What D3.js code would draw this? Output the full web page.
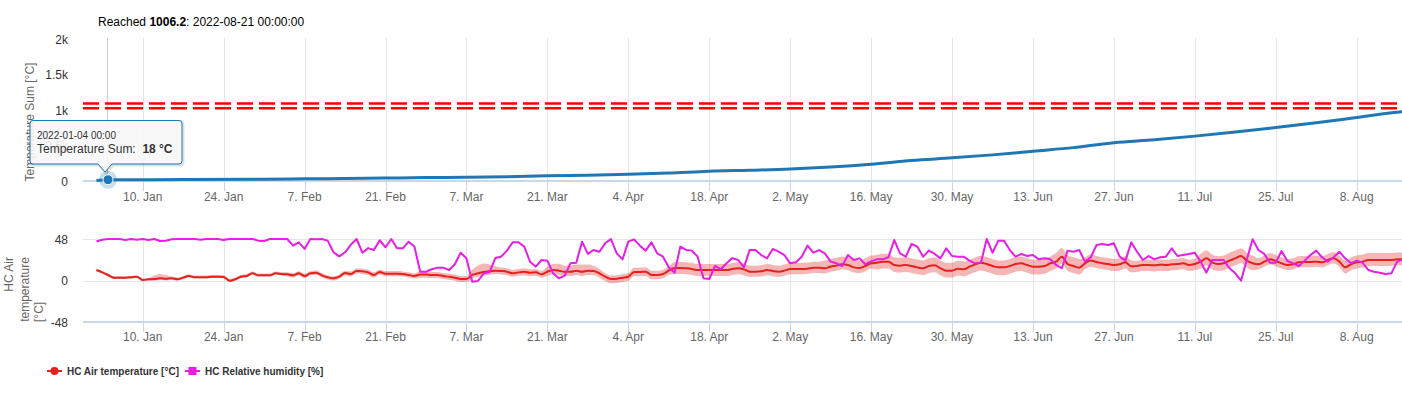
<!DOCTYPE html>
<html>
<head>
<meta charset="utf-8">
<script src="https://cdn.jsdelivr.net/npm/d3@7"></script>
<style>
  html, body { margin: 0; padding: 0; background: #fff; overflow: hidden; }
  svg { display: block; font-family: "Liberation Sans", Arial, sans-serif; }
</style>
</head>
<body>
<svg id="chart" width="1402" height="397"></svg>
<script>
// ---------------- DATA ----------------
const titlePrefix = "Reached ";
const titleValue = "1006.2";
const titleSuffix = ": 2022-08-21 00:00:00";

// x-axis tick dates (every two weeks)
const tickDates = ["2022-01-10","2022-01-24","2022-02-07","2022-02-21","2022-03-07","2022-03-21",
  "2022-04-04","2022-04-18","2022-05-02","2022-05-16","2022-05-30","2022-06-13","2022-06-27",
  "2022-07-11","2022-07-25","2022-08-08"];

// upper panel
const sumTicks = [0, 500, 1000, 1500, 2000];
const sumTickLabels = ["0", "0.5k", "1k", "1.5k", "2k"];
const thresholdValues = [1025, 1090];
const sumDates = ["2022-01-02","2022-01-03","2022-01-04","2022-01-17","2022-01-31","2022-02-07",
  "2022-02-14","2022-02-21","2022-02-28","2022-03-07","2022-03-14","2022-03-21","2022-03-28",
  "2022-04-04","2022-04-11","2022-04-18","2022-04-25","2022-05-02","2022-05-09","2022-05-16",
  "2022-05-23","2022-05-30","2022-06-06","2022-06-13","2022-06-20","2022-06-27","2022-07-04",
  "2022-07-11","2022-07-18","2022-07-25","2022-08-01","2022-08-08","2022-08-15","2022-08-21"];
const sumValues = [8,14,18,20,24,30,36,42,48,52,60,74,82,94,112,138,152,168,196,236,290,326,368,
  420,470,538,580,632,690,752,820,895,968,1006.2];
const tooltipDate = "2022-01-04";
const tooltipLabel = "2022-01-04 00:00";
const tooltipValue = 18;

// lower panel: daily values starting 2022-01-02
const dailyStart = "2022-01-02";
const tempTicks = [-48, 0, 48];
const airTemp = [12.1,9.4,6.4,3.3,3.3,3.3,3.7,4.4,0.6,1.4,1.7,2.5,2.1,2.5,1.4,3.3,5.2,3.7,3.7,3.7,
  4.4,4.4,4.1,-0.2,1.4,4.4,5.2,8.3,6.0,6.0,6.0,8.3,7.5,7.1,6.0,8.3,5.2,8.3,9.1,6.0,
  3.7,2.5,4.4,8.7,7.5,11,10.6,9.4,6.4,9.8,7.9,7.9,7.9,7.5,6.4,5.2,6.8,6.8,6.4,6.4,
  5.2,4.4,3.3,1.7,1.7,6.4,8.3,9.8,10.6,11.4,11,10.2,8.3,9.4,10.2,9.1,9.4,7.1,10.2,12.1,
  11.4,10.2,10.2,11.4,10.2,11.4,11,8.3,4.5,1.7,2.1,3.3,4.4,9.8,9.8,10.2,6.4,6.4,7.5,11.4,
  14.5,14.5,14.1,13.3,12.1,12.1,12.1,12.1,12.1,12.1,13.3,14.1,12.9,10.2,10.2,10.6,12.1,11,10.2,11.4,
  13.3,13.3,13.3,13.7,14.8,14.8,14.1,16,17.2,18.7,17.9,15.2,14.5,16.8,19.9,20.6,21.8,21.8,17.9,17.2,
  17.9,16.8,15.2,14.1,16.8,17.5,14.1,11.4,11.4,13.7,12.9,16,18.7,20.6,19.1,16.8,15.2,15.2,16.8,19.1,
  19.9,17.9,16,16,16.8,19.9,21.8,27.6,19.1,16.8,14.8,19.9,23,21.4,19.9,19.1,17.9,18.7,21,16.4,
  16.8,17.9,17.9,17.5,18.3,17.9,18.7,19.1,19.9,17.9,19.1,21.8,25.6,21,19.1,19.9,23,25.6,28.3,23,
  19.9,18.7,21.8,24.5,22.6,19.9,17.9,18.7,21,21.4,21.4,21.8,21,23.7,25.6,21.8,15.2,18.7,21,21.8,
  23.7,23.7,23.7,23.7,23.7,24.5,24.5];
// spread of the shaded range above / below the mean
const bandUp = [1.5,1.5,1.5,1.5,1.5,1.5,1.5,1.5,1.5,1.5, 4,5,4,
  2,2,2,2,2,2,2,2,2,2,2,2,2,2,2,2,2,2,2,2,
  2.5,2.5,2.5,2.5,2.5,2.5,2.5,2.5,2.5,2.5,2.5,
  3,3,3,3,3,3,3,3,3,3,3,3,
  3.5,3.5,3.5,3.5,3.5,3.5,3.5,3.5,3.5,
  6,9,10,8,5,4,
  4,4,4,4,4,4,4,
  6,7,8,7,7,7,8,7,6,5,
  4,4,4,4,4,
  5,5,5,5,5,5,5,
  7,7,7,7,7,7,7,7,7,7,7,7,7,
  7,7,7,7,7,7,7,7,7,7,7,7,7,
  9,9,9,9,9,9,9,9,9,
  9,9,9,9,9,9,9,9,9,9,9,9,9,9,9,9,
  8,8,8,8,8,8,8,8,8,8,8,8,8,8,8,
  10,10,10,10,10,
  7,7,7,7,7,7,7,7,7,
  6,6,6,6,6,6,6,6,6,6,6,
  9,9,9,9,9,9,9,9,9,9,
  7,7,7,7,7,7,7,7,7,7,7,7,7,7,7,
  8,8,8,8,8,8,8,8,8,8,8];
const bandDown = [1.5,1.5,1.5,1.5,1.5,1.5,1.5,1.5,1.5,1.5, 2,2,2,
  1.5,1.5,1.5,1.5,1.5,1.5,1.5,1.5,1.5,1.5,1.5,1.5,1.5,1.5,1.5,1.5,1.5,1.5,1.5,1.5,
  2.5,2.5,2.5,2.5,2.5,2.5,2.5,2.5,2.5,2.5,2.5,
  3,3,3,3,3,3,3,3,3,3,3,3,
  3.5,3.5,3.5,3.5,3.5,3.5,3.5,3.5,3.5,
  4,4,4,4,4,4,
  4,4,4,4,4,4,4,
  5,5,5,5,5,5,5,5,5,5,
  5,5,5,5,5,
  5,5,5,5,5,5,5,
  7,7,7,7,7,7,7,7,7,7,7,7,7,
  6,6,6,6,6,6,6,6,6,6,6,6,6,
  6,6,6,6,6,6,6,6,6,
  8,8,8,8,8,8,8,8,8,8,8,8,8,8,8,8,
  9,9,9,9,9,9,9,9,9,9,9,9,9,9,9,
  8,8,8,8,8,
  7,7,7,7,7,7,7,7,7,
  7,7,7,7,7,7,7,7,7,7,7,
  8,8,8,8,8,8,8,8,8,8,
  6,6,6,6,6,6,6,6,6,6,6,6,6,6,6,
  7,7,7,7,7,7,7,7,7,7,7];
const humidity = [97,99,100,100,100,98.8,100,99,100,98.8,100,97.6,98,99.6,100,100,100,100,99,100,
  100,100,98.8,100,100,100,100,100,98,97.6,100,100,100,100,92,96,88,100,99.6,100,
  98,84,79,84,93,100,83.5,89,86.7,98.5,90,100,88.8,88.8,96.8,91,60.6,60.6,63.5,65.5,
  65.5,62.7,69.5,83.5,76.7,48.6,49.4,58.6,60,77,78.7,86,96,96,90.8,72.7,66.7,74.7,73.9,58.6,
  52.6,55.8,70.7,71.5,96.8,82,86.7,84.7,94.8,100,82.7,75.5,96.8,99.6,92,86,96,82.7,78.7,65.9,
  59.4,90.8,86.8,86,78.7,52.6,51.8,67.5,63.5,70.7,77,74.7,65.9,86.7,86.7,80.7,76.7,88,84.7,80.7,
  70.7,71.9,78.7,92,83.5,86.7,82.7,72.7,70.7,67.5,80.7,74.7,76.7,69.5,73,75.5,75.5,78,98.8,82.7,
  78.7,94,90.8,78.7,86,82,76.7,88.8,79.5,78.7,78.7,73.9,70.7,71.5,100,83.5,98,98,86.7,78.7,
  82,79.5,80.7,75.5,76.7,75.5,68.7,64.7,86,84.7,86.7,72.7,78,92.8,94,92.8,94.8,78.7,73.9,96,
  84.7,74.7,79.5,75.5,78,78.7,88.8,79.5,80.7,82,83.5,72.7,59.4,74.7,74.7,74.7,64.7,58.6,49.8,75.5,
  99.6,86.7,82,71.5,71.5,85.5,73.5,70.7,67.5,73.9,80.7,86,78,72.7,78,84.7,76.7,70.7,73.9,71.5,
  62.7,60.6,59.4,57.8,58.6,72.7,75.5];

const legendItems = [
  { name: "HC Air temperature [°C]", color: "#e3221d", symbol: "circle" },
  { name: "HC Relative humidity [%]", color: "#e61ee6", symbol: "square" }
];

// ---------------- CHART ----------------
const svg = d3.select("#chart");
const parse = d3.utcParse("%Y-%m-%d");
const fmtTick = d3.utcFormat("%-d. %b");
const DAY = 86400000;
const start = parse(dailyStart);
const dayDate = i => new Date(start.getTime() + i * DAY);

const plotLeft = 83, plotRight = 1440;
const x = d3.scaleUtc()
  .domain([parse("2022-01-10"), parse("2022-08-08")])
  .range([142.7, 1356.7]);

const ySum = d3.scaleLinear().domain([0, 2000]).range([181, 39]);
const yTemp = d3.scaleLinear().domain([-48, 48]).range([322, 239]);
const yHum = d3.scaleLinear().domain([0, 100]).range([322, 239]);

const gridColor = "#e6e6e6", axisColor = "#ccd6eb";
const ticks = tickDates.map(parse);

// title
const title = svg.append("text").attr("x", 98).attr("y", 26)
  .attr("font-size", 12).attr("fill", "#000");
title.append("tspan").text(titlePrefix);
title.append("tspan").attr("font-weight", "bold").text(titleValue);
title.append("tspan").text(titleSuffix);

function panelGrid(top, bottom, labelY) {
  const g = svg.append("g");
  g.selectAll("line.grid").data(ticks).join("line")
    .attr("x1", d => Math.round(x(d)) + 0.5).attr("x2", d => Math.round(x(d)) + 0.5)
    .attr("y1", top).attr("y2", bottom)
    .attr("stroke", gridColor).attr("stroke-width", 1);
  g.selectAll("line.tick").data(ticks).join("line")
    .attr("x1", d => Math.round(x(d)) + 0.5).attr("x2", d => Math.round(x(d)) + 0.5)
    .attr("y1", bottom).attr("y2", bottom + 10)
    .attr("stroke", axisColor).attr("stroke-width", 1);
  g.selectAll("text").data(ticks).join("text")
    .attr("x", d => x(d)).attr("y", labelY)
    .attr("text-anchor", "middle").attr("font-size", 12).attr("fill", "#666")
    .text(d => fmtTick(d));
  return g;
}

// ---------- upper panel ----------
panelGrid(38, 181, 201);
// crosshair
svg.append("line")
  .attr("x1", Math.round(x(parse(tooltipDate))) - 0.5).attr("x2", Math.round(x(parse(tooltipDate))) - 0.5)
  .attr("y1", 38).attr("y2", 181).attr("stroke", "#cccccc").attr("stroke-width", 1);
svg.append("line").attr("x1", plotLeft).attr("x2", plotRight).attr("y1", 181).attr("y2", 181)
  .attr("stroke", axisColor).attr("stroke-width", 2);

svg.append("g").selectAll("text").data(sumTicks).join("text")
  .attr("x", 68).attr("y", d => ySum(d) + 4.5)
  .attr("text-anchor", "end").attr("font-size", 12).attr("fill", "#333")
  .text((d, i) => sumTickLabels[i]);

svg.append("text")
  .attr("transform", "translate(34,122) rotate(-90)")
  .attr("text-anchor", "middle").attr("font-size", 12).attr("fill", "#666")
  .text("Temperature Sum [°C]");

svg.append("g").selectAll("line").data(thresholdValues).join("line")
  .attr("x1", plotLeft).attr("x2", plotRight)
  .attr("y1", d => ySum(d)).attr("y2", d => ySum(d))
  .attr("stroke", "#ff0000").attr("stroke-width", 2.5).attr("stroke-dasharray", "16,6");

const sumData = sumDates.map((d, i) => ({ date: parse(d), v: sumValues[i] }));
svg.append("path").datum(sumData)
  .attr("fill", "none").attr("stroke", "#1f77b4").attr("stroke-width", 3)
  .attr("stroke-linejoin", "round")
  .attr("d", d3.line().x(d => x(d.date)).y(d => ySum(d.v)).curve(d3.curveMonotoneX));

// ---------- lower panel ----------
panelGrid(239, 322, 341);
svg.append("g").selectAll("line").data([48, 0]).join("line")
  .attr("x1", plotLeft).attr("x2", plotRight)
  .attr("y1", d => Math.round(yTemp(d)) + 0.5).attr("y2", d => Math.round(yTemp(d)) + 0.5)
  .attr("stroke", gridColor).attr("stroke-width", 1);
svg.append("line").attr("x1", plotLeft).attr("x2", plotRight).attr("y1", 322).attr("y2", 322)
  .attr("stroke", axisColor).attr("stroke-width", 2);

svg.append("g").selectAll("text").data(tempTicks).join("text")
  .attr("x", 68).attr("y", d => yTemp(d) + 4.5)
  .attr("text-anchor", "end").attr("font-size", 12).attr("fill", "#333")
  .text(d => d);

// wrapped axis title: lines placed as in the reference
const yt = svg.append("g").attr("transform", "translate(0,289.5) rotate(-90)");
[["HC Air", 13, 32.5, "end"], ["temperature", 29, 0, "middle"], ["[°C]", 43, -32.5, "start"]]
  .forEach(([t, dy, ax, anchor]) => {
    yt.append("text").attr("x", ax).attr("y", dy).attr("text-anchor", anchor)
      .attr("font-size", 12).attr("fill", "#666").text(t);
  });

const tempData = airTemp.map((v, i) => ({ date: dayDate(i), v, lo: v - bandDown[i], hi: v + bandUp[i] }));
const humData = humidity.map((v, i) => ({ date: dayDate(i), v }));

svg.append("path").datum(tempData)
  .attr("fill", "#e3221d").attr("fill-opacity", 0.33)
  .attr("d", d3.area().x(d => x(d.date)).y0(d => yTemp(d.lo)).y1(d => yTemp(d.hi)).curve(d3.curveMonotoneX));
svg.append("path").datum(tempData)
  .attr("fill", "none").attr("stroke", legendItems[0].color).attr("stroke-width", 2)
  .attr("stroke-linejoin", "round")
  .attr("d", d3.line().x(d => x(d.date)).y(d => yTemp(d.v)).curve(d3.curveMonotoneX));
svg.append("path").datum(humData)
  .attr("fill", "none").attr("stroke", legendItems[1].color).attr("stroke-width", 2)
  .attr("stroke-linejoin", "round")
  .attr("d", d3.line().x(d => x(d.date)).y(d => yHum(d.v)));

// ---------- tooltip on top ----------
const tx = x(parse(tooltipDate)), ty = ySum(tooltipValue);
svg.append("circle").attr("cx", tx).attr("cy", ty).attr("r", 9)
  .attr("fill", "#1f77b4").attr("fill-opacity", 0.25);
svg.append("circle").attr("cx", tx).attr("cy", ty).attr("r", 5)
  .attr("fill", "#1f77b4").attr("stroke", "#fff").attr("stroke-width", 1);

const tip = svg.append("g");
const tipPath = "M33,120.5 H179 Q182,120.5 182,123.5 V161 Q182,164 179,164 H112 L105,172 L98,164 H33 Q30,164 30,161 V123.5 Q30,120.5 33,120.5 Z";
tip.append("path").attr("d", tipPath).attr("transform", "translate(1,1)")
  .attr("fill", "none").attr("stroke", "#000").attr("stroke-opacity", 0.12).attr("stroke-width", 3);
tip.append("path").attr("d", tipPath)
  .attr("fill", "#f7f7f7").attr("fill-opacity", 0.9).attr("stroke", "#1f77b4").attr("stroke-width", 1);
tip.append("text").attr("x", 37).attr("y", 139).attr("font-size", 10).attr("fill", "#333").text(tooltipLabel);
const t2 = tip.append("text").attr("x", 37).attr("y", 153).attr("font-size", 12).attr("fill", "#333")
  .attr("xml:space", "preserve");
t2.append("tspan").text("Temperature Sum:  ");
t2.append("tspan").attr("font-weight", "bold").text(tooltipValue + " °C");

// ---------- legend ----------
const lg = svg.append("g").attr("transform", "translate(0,371)");
let lx = 47;
legendItems.forEach(item => {
  const g = lg.append("g").attr("transform", `translate(${lx},0)`);
  g.append("line").attr("x1", 0).attr("x2", 15).attr("y1", 0).attr("y2", 0)
    .attr("stroke", item.color).attr("stroke-width", 2);
  if (item.symbol === "circle") {
    g.append("circle").attr("cx", 7.5).attr("cy", 0).attr("r", 4).attr("fill", item.color);
  } else {
    g.append("rect").attr("x", 3.5).attr("y", -4).attr("width", 8).attr("height", 8).attr("fill", item.color);
  }
  const t = g.append("text").attr("x", 20).attr("y", 3.5).attr("font-size", 10)
    .attr("font-weight", "bold").attr("fill", "#333").text(item.name);
  lx += 20 + t.node().getComputedTextLength() + 6;
});
</script>
</body>
</html>
